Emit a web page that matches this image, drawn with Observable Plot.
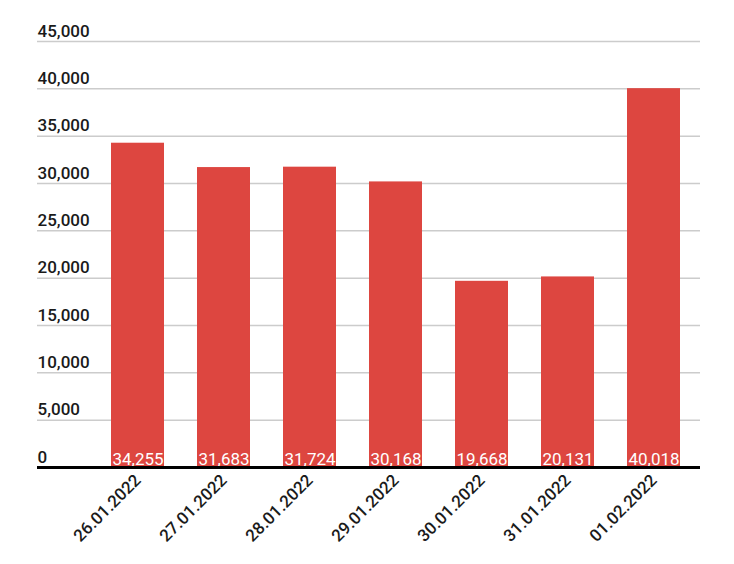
<!DOCTYPE html>
<html>
<head>
<meta charset="utf-8">
<script src="https://cdn.jsdelivr.net/npm/d3@7"></script>
<script src="https://cdn.jsdelivr.net/npm/@observablehq/plot@0.6"></script>
<style>
  html, body { margin: 0; padding: 0; background: #fff; }
  #chart svg { font-family: Roboto, "Noto Sans", sans-serif; }
</style>
</head>
<body>
<div id="chart"></div>
<script>
const dates = ["26.01.2022", "27.01.2022", "28.01.2022", "29.01.2022", "30.01.2022", "31.01.2022", "01.02.2022"];
const values = [34255, 31683, 31724, 30168, 19668, 20131, 40018];
const yTicks = [0, 5000, 10000, 15000, 20000, 25000, 30000, 35000, 40000, 45000];

const data = dates.map((d, i) => ({date: d, value: values[i]}));
const fmt = d3.format(",");

const chart = Plot.plot({
  width: 734,
  height: 564,
  marginLeft: 37,
  marginRight: 34,
  marginTop: 41,
  marginBottom: 97,
  style: {fontFamily: "Roboto, 'Noto Sans', sans-serif", background: "#fff"},
  x: {domain: dates, range: [110, 680], paddingInner: 0.385, paddingOuter: 0, label: null, axis: null},
  y: {domain: [0, 45000], label: null, axis: null},
  marks: [
    Plot.ruleY(yTicks.filter(t => t > 0), {stroke: "#cccccc", strokeWidth: 1.5}),
    Plot.text(yTicks, {y: d => d, text: d => fmt(d), frameAnchor: "left", textAnchor: "start", lineAnchor: "bottom", dy: -5, fontSize: 17, fontWeight: 500, fill: "#1a1a1a"}),
    Plot.barY(data, {x: "date", y: "value", fill: "#dd4640"}),
    Plot.text(data, {x: "date", y: 0, text: d => fmt(d.value), lineAnchor: "bottom", dy: -3, fontSize: 17, fill: "#ffffff"}),
    Plot.ruleY([0], {stroke: "#000", strokeWidth: 3}),
    Plot.axisX({tickRotate: -45, tickSize: 0, tickPadding: 10, fontSize: 17, fontWeight: 500, fill: "#1a1a1a", label: null})
  ]
});
document.getElementById("chart").appendChild(chart);
</script>
</body>
</html>
